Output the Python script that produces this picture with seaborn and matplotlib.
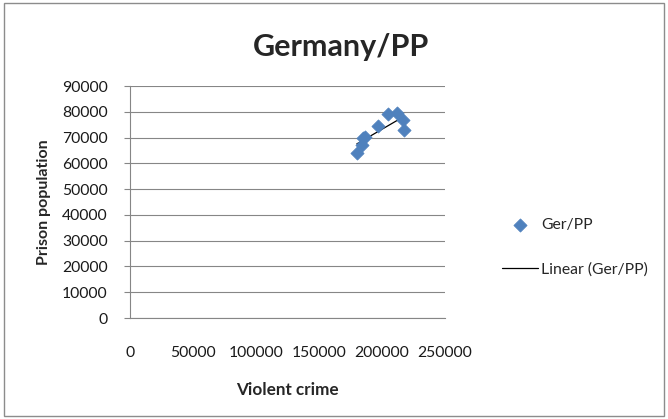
import numpy as np
import pandas as pd
import matplotlib
matplotlib.use('Agg')
import matplotlib.pyplot as plt
import seaborn as sns

# Данные
violent_crime = [180000, 184000, 186500, 185200, 197100, 204500, 211700, 217000, 217800]
prison_pop = [64000, 67300, 70400, 69900, 74400, 79000, 79600, 77000, 72800]
x_ticks = [0, 50000, 100000, 150000, 200000, 250000]
y_ticks = [0, 10000, 20000, 30000, 40000, 50000, 60000, 70000, 80000, 90000]

df = pd.DataFrame({'Violent crime': violent_crime, 'Prison population': prison_pop})

sns.set_style('white')
plt.rcParams['font.family'] = ['Lato', 'DejaVu Sans']

fig = plt.figure(figsize=(6.68, 4.19), dpi=100)
ax = fig.add_axes([130 / 668, (419 - 318) / 419, (445 - 130) / 668, (318 - 86) / 419])

# рамка вокруг всей диаграммы
fig.patches.append(plt.Rectangle((0.006, 0.006), 0.988, 0.988, transform=fig.transFigure,
                                 fill=False, edgecolor='#8c8c8c', linewidth=1))

sns.scatterplot(data=df, x='Violent crime', y='Prison population', marker='D', s=45,
                color='#4F81BD', edgecolor='#4F81BD', label='Ger/PP', ax=ax, zorder=3)
sns.regplot(data=df, x='Violent crime', y='Prison population', scatter=False, ci=None,
            line_kws={'color': 'black', 'linewidth': 0.9}, label='Linear (Ger/PP)', ax=ax)

ax.set_xlim(0, 250000)
ax.set_ylim(0, 90000)
ax.set_xticks(x_ticks)
ax.set_yticks(y_ticks)
ax.set_xticklabels([str(t) for t in x_ticks], fontsize=11.3, color='#1a1a1a')
ax.set_yticklabels([str(t) for t in y_ticks], fontsize=11.3, color='#1a1a1a')
ax.tick_params(axis='x', length=0, pad=20)
ax.tick_params(axis='y', length=4, color='#868686', direction='out', pad=12, left=True)
ax.yaxis.grid(True, color='#868686', linewidth=0.8)
ax.set_axisbelow(True)
for side in ['top', 'right']:
    ax.spines[side].set_visible(False)
for side in ['left', 'bottom']:
    ax.spines[side].set_color('#868686')
    ax.spines[side].set_linewidth(0.8)

ax.set_xlabel('Violent crime', fontsize=12.3, fontweight='bold', labelpad=16)
ax.set_ylabel('Prison population', fontsize=11.5, fontweight='bold', labelpad=8)
fig.text(341 / 668, 1 - 47 / 419, 'Germany/PP', fontsize=22, fontweight='bold',
         ha='center', va='center')

ax.legend(loc='center left', bbox_to_anchor=(1.135, 0.305), frameon=False, fontsize=11.3,
          handlelength=2.3, labelspacing=1.9, handletextpad=0.2)

plt.savefig('out.png', dpi=100)
